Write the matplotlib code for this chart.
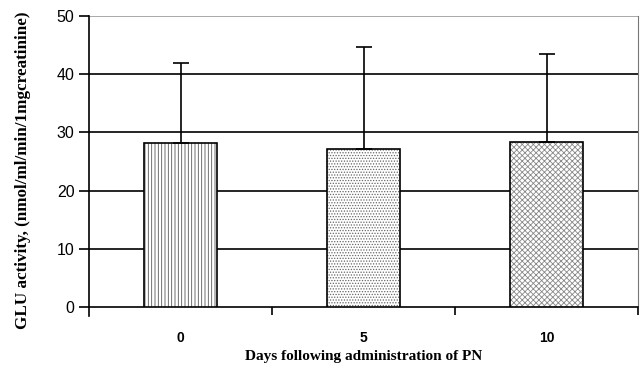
import numpy as np
import matplotlib
matplotlib.use("Agg")
import matplotlib.pyplot as plt

days = ["0", "5", "10"]
means = [28.1, 27.1, 28.4]
sd_upper = [13.8, 17.6, 15.0]
hatches = ["|||||", "......", "xxxxxx"]
hatch_cols = ["#555555", "#666666", "#888888"]

plt.rcParams["hatch.linewidth"] = 0.6
fig = plt.figure(figsize=(6.43, 3.74), dpi=100)
ax = fig.add_axes([89 / 643, 1 - 307 / 374, 549 / 643, 291 / 374])

x = np.arange(len(days))
for xi, m, e, h, hc in zip(x, means, sd_upper, hatches, hatch_cols):
    # hatch in grey, outline in black drawn on top
    ax.bar(xi, m, width=0.4, color="white", edgecolor=hc, hatch=h,
           linewidth=0, zorder=3)
    ax.bar(xi, m, width=0.4, fill=False, edgecolor="black",
           linewidth=1.2, zorder=3.5)
    ax.errorbar(xi, m, yerr=[[0], [e]], fmt="none", ecolor="black",
                elinewidth=1.2, capsize=6, capthick=1.2, zorder=4)

# gridlines
for yv in [10, 20, 30, 40]:
    ax.axhline(yv, color="black", lw=1.2, zorder=1)
ax.axhline(50, color="#999999", lw=1.2, zorder=1)

ax.set_xlim(-0.5, 2.5)
ax.set_ylim(0, 50)
ax.set_yticks([0, 10, 20, 30, 40, 50])
ax.set_xticks(x)
ax.set_xticklabels(days, fontfamily="Liberation Sans", fontweight="bold",
                   fontsize=10)
ax.set_xticks([0.5, 1.5, 2.5], minor=True)
ax.tick_params(axis="x", which="major", length=0, pad=17)
ax.tick_params(axis="x", which="minor", length=6, width=1.2)
ax.tick_params(axis="y", length=7, width=1.2, labelsize=11.5)
for lab in ax.get_yticklabels():
    lab.set_fontfamily("Liberation Sans")

ax.spines["top"].set_visible(False)
ax.spines["left"].set_linewidth(1.2)
ax.spines["bottom"].set_linewidth(1.2)
ax.spines["right"].set_linewidth(0.8)
ax.spines["right"].set_color("#777777")
ax.spines["left"].set_bounds(-1.5, 50)

ax.set_xlabel("Days following administration of PN", fontfamily="Liberation Serif",
              fontweight="bold", fontsize=11, labelpad=4)
ax.set_ylabel("GLU activity, (nmol/ml/min/1mgcreatinine)", fontfamily="Liberation Serif",
              fontweight="bold", fontsize=12.3)
ax.yaxis.set_label_coords(-0.105, 0.47)

fig.savefig("out.png", dpi=100)
